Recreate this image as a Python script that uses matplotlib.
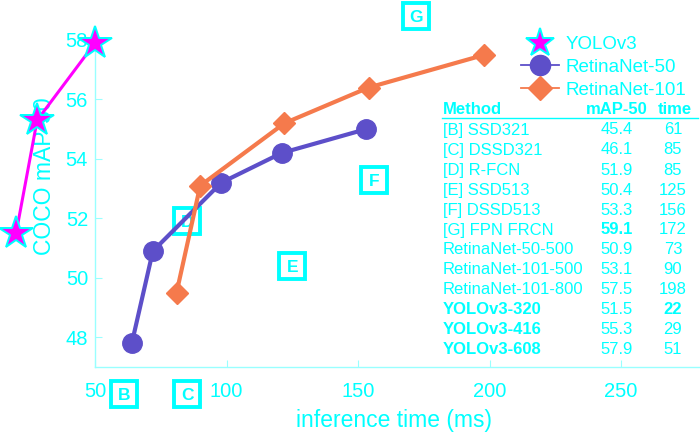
import matplotlib
matplotlib.use('Agg')
import matplotlib.pyplot as plt
from matplotlib.lines import Line2D

plt.rcParams['font.family'] = 'Liberation Sans'

# data
yolo_time = [20, 28, 50]
yolo_map = [51.5, 55.3, 57.9]
r50_time = [64, 72, 98, 121, 153]
r50_map = [47.8, 50.9, 53.2, 54.2, 55.0]
r101_time = [81, 90, 122, 154, 198]
r101_map = [49.5, 53.1, 55.2, 56.4, 57.5]

letters = ['B', 'C', 'D', 'E', 'F', 'G']
letter_time = [61, 85, 85, 125, 156, 172]
letter_map = [46.1, 46.1, 51.9, 50.4, 53.3, 58.8]

# table
methods = ['[B] SSD321', '[C] DSSD321', '[D] R-FCN', '[E] SSD513', '[F] DSSD513',
           '[G] FPN FRCN', 'RetinaNet-50-500', 'RetinaNet-101-500',
           'RetinaNet-101-800', 'YOLOv3-320', 'YOLOv3-416', 'YOLOv3-608']
map50 = ['45.4', '46.1', '51.9', '50.4', '53.3', '59.1', '50.9', '53.1',
         '57.5', '51.5', '55.3', '57.9']
times = ['61', '85', '85', '125', '156', '172', '73', '90', '198', '22', '29', '51']
bold_method = [False] * 9 + [True] * 3
bold_map = [False] * 5 + [True] + [False] * 6
bold_time = [False] * 9 + [True, False, False]

cyan = '#00FFFF'
spine_c = '#99FFFF'
magenta = '#FF00FF'
purple = '#5D4FC9'
orange = '#F57A4C'

W, H = 700, 432
fig = plt.figure(figsize=(7, 4.32), dpi=100)
ax = fig.add_axes([95 / W, 65 / H, 605 / W, 327 / H])


def fx(px):
    return px / W


def fy(py):
    return 1 - py / H


# letter boxes (under the lines)
for t, m, s in zip(letter_time, letter_map, letters):
    ax.plot(t, m, marker='s', ms=19, mfc='white', mec=cyan, mew=2.8,
            clip_on=False, zorder=1)
    ax.text(t, m, s, color=cyan, fontsize=12.5, fontweight='bold',
            ha='center', va='center_baseline', clip_on=False, zorder=1.5)

ax.plot(r50_time, r50_map, '-o', color=purple, lw=3, ms=14, clip_on=False, zorder=3)
ax.plot(r101_time, r101_map, '-D', color=orange, lw=3, ms=11.5, clip_on=False, zorder=3)
ax.plot(yolo_time, yolo_map, '-*', color=magenta, lw=2.2, ms=25, mfc=magenta,
        mec=cyan, mew=1.4, clip_on=False, zorder=4)

ax.set_xlim(50, 280)
ax.set_ylim(47, 58)
ax.set_xticks([50, 100, 150, 200, 250])
ax.set_yticks([48, 50, 52, 54, 56, 58])
for side in ['top', 'right']:
    ax.spines[side].set_visible(False)
for side in ['left', 'bottom']:
    ax.spines[side].set_color(spine_c)
    ax.spines[side].set_linewidth(1)
ax.tick_params(direction='in', length=5, color=spine_c, labelcolor=cyan,
               labelsize=14.5)
ax.tick_params(axis='x', pad=11)
ax.tick_params(axis='y', pad=5)
ax.patch.set_visible(False)

ax.set_xlabel('inference time (ms)', fontsize=16.5, color=cyan, va='center')
ax.xaxis.set_label_coords((394 - 95) / 605, (367 - 420) / 327)
ax.set_ylabel('COCO mAP-50', fontsize=16.5, color=cyan, va='center')
ax.yaxis.set_label_coords((45 - 95) / 605, (367 - 176) / 327)

# legend
handles = [
    Line2D([], [], ls='none', marker='*', ms=21, mfc=magenta, mec=cyan, mew=1.4),
    Line2D([], [], color=purple, lw=1.3, marker='o', ms=14.5),
    Line2D([], [], color=orange, lw=1.3, marker='D', ms=12.5),
]
fig.legend(handles, ['YOLOv3', 'RetinaNet-50', 'RetinaNet-101'],
           loc='upper left', bbox_to_anchor=(fx(521), fy(36)), frameon=False,
           fontsize=13.5, labelcolor=cyan, handlelength=2.05, handletextpad=0.32,
           labelspacing=0.3, borderpad=0, borderaxespad=0)

# table on the right
fig.text(fx(443), fy(110), 'Method', color=cyan, fontsize=12, fontweight='bold',
         ha='left', va='center')
fig.text(fx(617), fy(110), 'mAP-50', color=cyan, fontsize=12, fontweight='bold',
         ha='center', va='center')
fig.text(fx(675), fy(110), 'time', color=cyan, fontsize=12, fontweight='bold',
         ha='center', va='center')
fig.add_artist(Line2D([fx(442), fx(698)], [fy(118), fy(118)],
                      transform=fig.transFigure, color=cyan, lw=1))
for i in range(len(methods)):
    y = fy(130 + 20 * i)
    fig.text(fx(443), y, methods[i], color=cyan, fontsize=12, ha='left', va='center',
             fontweight='bold' if bold_method[i] else 'normal')
    fig.text(fx(617), y, map50[i], color=cyan, fontsize=12, ha='center', va='center',
             fontweight='bold' if bold_map[i] else 'normal')
    fig.text(fx(673), y, times[i], color=cyan, fontsize=12, ha='center', va='center',
             fontweight='bold' if bold_time[i] else 'normal')

fig.savefig('out.png', dpi=100)
